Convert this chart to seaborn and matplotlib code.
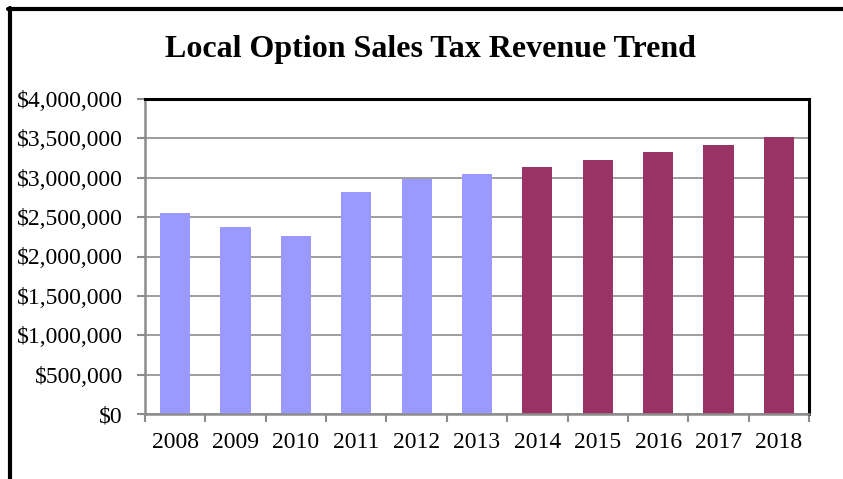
import matplotlib
matplotlib.use("Agg")
import matplotlib.pyplot as plt
from matplotlib.lines import Line2D
from matplotlib.ticker import FuncFormatter, FixedLocator
import seaborn as sns
import pandas as pd

# Annual local option sales tax revenue (actual through 2013, projected after)
years = ["2008", "2009", "2010", "2011", "2012", "2013",
         "2014", "2015", "2016", "2017", "2018"]
revenue = [2555000, 2380000, 2266000, 2818000, 2987000, 3050000,
           3140000, 3228000, 3330000, 3419000, 3520000]
period = ["Actual"] * 6 + ["Projected"] * 5
period_colors = {"Actual": "#9999FF", "Projected": "#993366"}

df = pd.DataFrame({"Year": years, "Revenue": revenue, "Period": period})

sns.set_theme(style="white")
plt.rcParams["font.family"] = ["Liberation Serif", "DejaVu Serif"]

fig = plt.figure(figsize=(8.43, 4.79), dpi=100)
ax = fig.add_axes([145 / 843, 1 - 414 / 479, (809 - 145) / 843, (414 - 99) / 479])

sns.barplot(data=df, x="Year", y="Revenue", hue="Period", palette=period_colors,
            dodge=False, width=0.5, legend=False, saturation=1, linewidth=0,
            edgecolor="none", ax=ax)

ax.set_ylim(0, 4000000)
ax.set_xlim(-0.5, len(years) - 0.5)
ax.set_yticks(range(0, 4000001, 500000))
ax.yaxis.set_major_formatter(FuncFormatter(lambda v, p: f"${v:,.0f}"))
ax.set_xlabel("")
ax.set_ylabel("")

# gridlines behind the bars
ax.set_axisbelow(True)
ax.yaxis.grid(True, color="#8c8c8c", linewidth=1.2)
ax.xaxis.grid(False)

# category ticks sit between the bars
ax.xaxis.set_minor_locator(FixedLocator([i - 0.5 for i in range(len(years) + 1)]))
ax.tick_params(axis="x", which="major", length=0, pad=13, labelsize=17, labelcolor="black")
ax.tick_params(axis="x", which="minor", length=6, width=1.5, color="#8c8c8c", direction="out")
ax.tick_params(axis="y", which="major", length=6, width=1.5, color="#8c8c8c",
               direction="out", pad=10, labelsize=17, labelcolor="black")
ax.tick_params(left=True, bottom=True, which="both")
ax.tick_params(axis="x", which="major", bottom=False)

for side in ("left", "bottom"):
    ax.spines[side].set_color("#8c8c8c")
    ax.spines[side].set_linewidth(1.8)
for side in ("top", "right"):
    ax.spines[side].set_color("black")
    ax.spines[side].set_linewidth(2.2)
    ax.spines[side].set_visible(True)

fig.text(430 / 843, 1 - 50 / 479, "Local Option Sales Tax Revenue Trend",
         ha="center", va="center", fontsize=23, fontweight="bold", color="black")

# outer frame around the chart
fig.add_artist(Line2D([8 / 843, 1.0], [1 - 9 / 479, 1 - 9 / 479],
                      transform=fig.transFigure, color="black", linewidth=3))
fig.add_artist(Line2D([9.5 / 843, 9.5 / 843], [0.0, 1 - 7.5 / 479],
                      transform=fig.transFigure, color="black", linewidth=3))

fig.savefig("out.png", dpi=100, facecolor="white")
